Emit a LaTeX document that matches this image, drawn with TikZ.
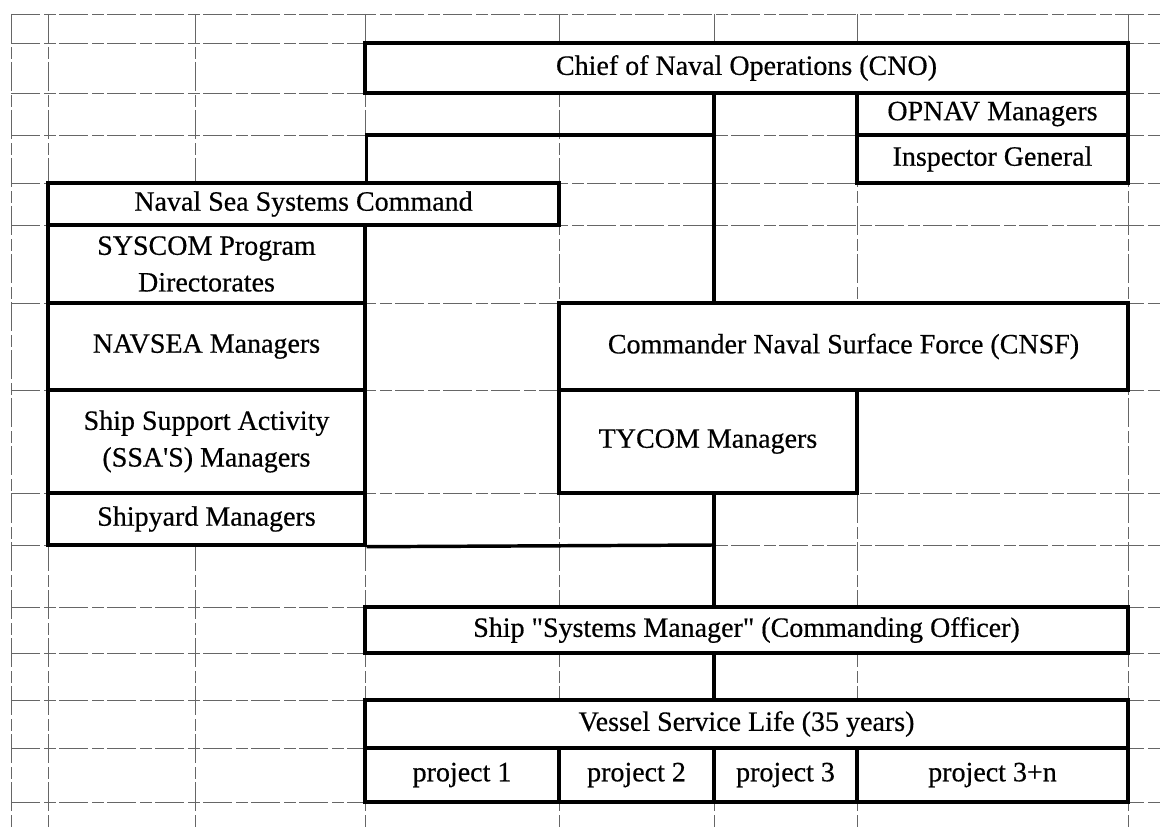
\documentclass[tikz,border=0pt]{standalone}
\usepackage{fontspec}
\setmainfont[FakeBold=0.5]{Liberation Serif}
\begin{document}
\begin{tikzpicture}[x=0.75pt,y=-0.75pt,
  gridline/.style={draw=black!60, line width=0.45pt, dash pattern=on 22pt off 3pt on 9pt off 2pt},
  box/.style={draw=black, fill=white, line width=2.6pt, inner sep=0pt, align=center,
    font=\fontsize{21}{27.5}\selectfont},
  link/.style={draw=black, line width=2.6pt}]
\useasboundingbox (0,0) rectangle (1160,827);
\fill[white] (0,0) rectangle (1160,827);
% spreadsheet grid
\foreach \y in {14,43,93,135,183,225,303,390,493,545,607,653,700,748,802}
  \draw[gridline] (11,\y) -- (1160,\y);
\foreach \x in {11,48,195,365,559,714,857,1128}
  \draw[gridline] (\x,14) -- (\x,827);
\newcommand{\bx}[6]{\node[box, minimum width={(#4-#2)*0.75pt}, minimum height={(#5-#3)*0.75pt}] (#1) at ({(#2+#4)/2},{(#3+#5)/2}) {#6};}
\bx{cno}{365}{43}{1128}{93}{Chief of Naval Operations (CNO)}
\bx{opnav}{857}{93}{1128}{135}{OPNAV Managers}
\bx{ig}{857}{135}{1128}{183}{Inspector General}
\bx{nssc}{48}{183}{559}{225}{Naval Sea Systems Command}
\bx{syscom}{48}{225}{365}{303}{SYSCOM Program\\Directorates}
\bx{navsea}{48}{303}{365}{390}{NAVSEA Managers}
\bx{ssa}{48}{390}{365}{493}{Ship Support Activity\\(SSA\textquotesingle S) Managers}
\bx{yard}{48}{493}{365}{545}{Shipyard Managers}
\bx{cnsf}{559}{303}{1128}{390}{Commander Naval Surface Force (CNSF)}
\bx{tycom}{559}{390}{857}{493}{TYCOM Managers}
\bx{ship}{365}{607}{1128}{653}{Ship \textquotedbl Systems Manager\textquotedbl{} (Commanding Officer)}
\bx{vessel}{365}{700}{1128}{748}{Vessel Service Life (35 years)}
\bx{p1}{365}{748}{559}{802}{project 1}
\bx{p2}{559}{748}{714}{802}{project 2}
\bx{p3}{714}{748}{857}{802}{project 3}
\bx{pn}{857}{748}{1128}{802}{project 3+n}
% connectors
\coordinate (j1) at (714,135);
\coordinate (j2) at (714,545);
\draw[link] (cno.south -| j1) -- (cnsf.north -| j1);
\draw[link] (j1) -| (nssc.north -| syscom.east);
\draw[link] (tycom.south -| j1) -- (ship.north -| j1);
\draw[link] (yard.south east) -- (j2);
\draw[link] (ship.south -| j1) -- (vessel.north -| j1);
\end{tikzpicture}
\end{document}
